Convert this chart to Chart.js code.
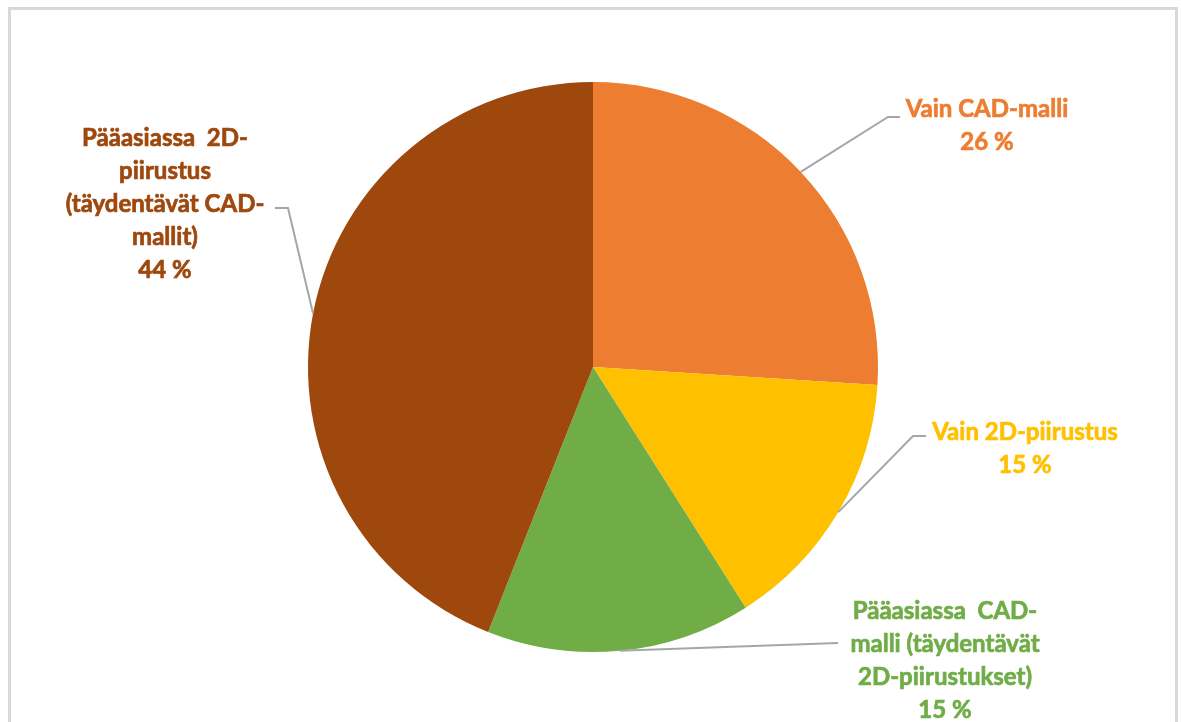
<!DOCTYPE html>
<html>
<head>
<meta charset="utf-8">
<script src="https://cdn.jsdelivr.net/npm/chart.js@4"></script>
<style>
  html, body { margin: 0; padding: 0; background: #fff; overflow: hidden; }
  #wrap { position: relative; width: 1181px; height: 722px; }
  #frame { position: absolute; left: 8px; top: 7px; width: 1170px; height: 800px;
           border: 3px solid #d9d9d9; box-sizing: border-box; }
  canvas { position: absolute; left: 0; top: 0; }
</style>
</head>
<body>
<div id="wrap">
  <div id="frame"></div>
  <canvas id="piirakka" width="1181" height="722"></canvas>
</div>
<script>
// data
const luokat = [
  "Vain CAD-malli",
  "Vain 2D-piirustus",
  "Pääasiassa CAD-malli (täydentävät 2D-piirustukset)",
  "Pääasiassa 2D-piirustus (täydentävät CAD-mallit)"
];
const osuudet = [26, 15, 15, 44];
const otsikkoRivit = [
  ["Vain CAD-malli"],
  ["Vain 2D-piirustus"],
  ["Pääasiassa  CAD-", "malli (täydentävät", "2D-piirustukset)"],
  ["Pääasiassa  2D-", "piirustus", "(täydentävät CAD-", "mallit)"]
];
const varit = ["#ED7D31", "#FFC000", "#70AD47", "#9E480E"];

// label placement (text centre x, first baseline y, elbow, end of leader)
const sijainnit = [
  { x: 987, y: 117, kulma: [888, 117], loppu: [900, 117] },
  { x: 1025, y: 440, kulma: [913, 436], loppu: [926, 436] },
  { x: 945, y: 619, kulma: [838, 643], loppu: [838, 643] },
  { x: 165, y: 146, kulma: [288, 208], loppu: [275, 208] }
];
const RIVIVALI = 33;

const selitteet = {
  id: "selitteet",
  afterDatasetsDraw(chart) {
    const c = chart.ctx;
    const meta = chart.getDatasetMeta(0);
    c.save();
    meta.data.forEach((arc, i) => {
      const p = sijainnit[i];
      const mid = (arc.startAngle + arc.endAngle) / 2;
      const ax = arc.x + Math.cos(mid) * arc.outerRadius;
      const ay = arc.y + Math.sin(mid) * arc.outerRadius;
      // leader line
      c.strokeStyle = "#a6a6a6";
      c.lineWidth = 2;
      c.beginPath();
      c.moveTo(ax, ay);
      c.lineTo(p.kulma[0], p.kulma[1]);
      c.lineTo(p.loppu[0], p.loppu[1]);
      c.stroke();
      // text
      const rivit = otsikkoRivit[i].concat([osuudet[i] + " %"]);
      c.fillStyle = varit[i];
      c.strokeStyle = varit[i];
      c.lineWidth = 0.7;
      c.font = "bold 24px Lato";
      c.textAlign = "center";
      c.textBaseline = "alphabetic";
      rivit.forEach((r, k) => {
        c.fillText(r, p.x, p.y + k * RIVIVALI);
        c.strokeText(r, p.x, p.y + k * RIVIVALI);
      });
    });
    c.restore();
  }
};

const ctx = document.getElementById("piirakka").getContext("2d");
new Chart(ctx, {
  type: "pie",
  data: {
    labels: luokat,
    datasets: [{
      data: osuudet,
      backgroundColor: varit,
      borderWidth: 0
    }]
  },
  options: {
    responsive: false,
    animation: false,
    layout: { padding: { left: 308, right: 303, top: 82, bottom: 70 } },
    plugins: {
      legend: { display: false },
      tooltip: { enabled: false }
    }
  },
  plugins: [selitteet]
});
</script>
</body>
</html>
